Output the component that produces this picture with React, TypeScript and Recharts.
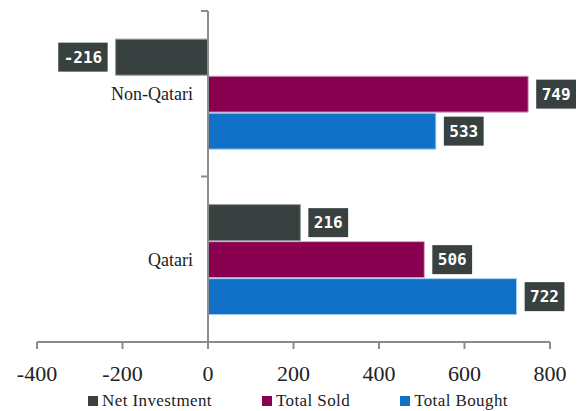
import React from 'react';
import {
  BarChart,
  Bar,
  XAxis,
  YAxis,
  ReferenceLine,
  LabelList,
  Legend,
} from 'recharts';

const categories = ['Non-Qatari', 'Qatari'];
const netInvestment = [-216, 216];
const totalSold = [749, 506];
const totalBought = [533, 722];
const xTicks = [-400, -200, 0, 200, 400, 600, 800];

const data = categories.map((name, i) => ({
  name,
  net: netInvestment[i],
  sold: totalSold[i],
  bought: totalBought[i],
}));

const series = [
  { key: 'net', label: 'Net Investment', fill: '#394140', stroke: '#8e9594' },
  { key: 'sold', label: 'Total Sold', fill: '#8a0050', stroke: '#dba3c6' },
  { key: 'bought', label: 'Total Bought', fill: '#1170c8', stroke: '#a9d0f1' },
];

const serif = '"Liberation Serif", "DejaVu Serif", serif';
const mono = '"DejaVu Sans Mono", monospace';
const axisGray = '#8c8c8c';

const BoxLabel = (props: any) => {
  const { x, y, width, height, value } = props;
  const left = Math.min(x, x + width);
  const right = Math.max(x, x + width);
  const text = String(value);
  const w = text.length * 9.6 + 11;
  const h = 29;
  const bx = value < 0 ? left - 8 - w : right + 8;
  const cy = y + height / 2;
  return (
    <g>
      <rect x={bx} y={cy - h / 2} width={w} height={h} fill="#394140" />
      <text
        x={bx + w / 2}
        y={cy}
        dy="0.36em"
        textAnchor="middle"
        fill="#ffffff"
        fontFamily={mono}
        fontWeight="bold"
        fontSize={16}
      >
        {text}
      </text>
    </g>
  );
};

// category names + boundary ticks drawn along the zero line
const CategoryAxis = (props: any) => {
  const vb = props.viewBox || {};
  const x0 = vb.x;
  const top = vb.y;
  const h = vb.height;
  const n = categories.length;
  return (
    <g>
      {categories.map((c, i) => (
        <text
          key={c}
          x={x0 - 15}
          y={top + (h * (i + 0.5)) / n}
          dy="0.35em"
          textAnchor="end"
          fill="#222"
          fontFamily={serif}
          fontSize={18}
        >
          {c}
        </text>
      ))}
      {Array.from({ length: n + 1 }).map((_, i) => (
        <line
          key={i}
          x1={x0 - 7}
          x2={x0}
          y1={top + (h * i) / n}
          y2={top + (h * i) / n}
          stroke={axisGray}
          strokeWidth={2}
        />
      ))}
    </g>
  );
};

const LegendContent = () => (
  <div
    style={{
      display: 'flex',
      justifyContent: 'center',
      alignItems: 'center',
      height: 21,
      paddingLeft: 9,
      fontFamily: serif,
      fontSize: 17,
      letterSpacing: 0.4,
      color: '#222',
    }}
  >
    {series.map((s, i) => (
      <div
        key={s.key}
        style={{ display: 'flex', alignItems: 'center', marginRight: i < series.length - 1 ? 50 : 0 }}
      >
        <span style={{ width: 10, height: 10, background: s.fill, marginRight: 4, display: 'inline-block' }} />
        <span>{s.label}</span>
      </div>
    ))}
  </div>
);

export default function App() {
  return (
    <BarChart
      width={588}
      height={411}
      data={data}
      layout="vertical"
      margin={{ top: 11, right: 38, left: 37, bottom: 0 }}
      barCategoryGap="17%"
      barGap={1}
      style={{ marginLeft: -8, marginTop: -8 }}
    >
      <XAxis
        type="number"
        domain={[-400, 800]}
        ticks={xTicks}
        interval={0}
        height={48}
        axisLine={{ stroke: axisGray, strokeWidth: 2 }}
        tickLine={{ stroke: axisGray, strokeWidth: 2 }}
        tickSize={7}
        tickMargin={16}
        tick={{ fill: '#222', fontFamily: serif, fontSize: 22 }}
      />
      <YAxis type="category" dataKey="name" hide />
      {series.map((s) => (
        <Bar
          key={s.key}
          dataKey={s.key}
          name={s.label}
          fill={s.fill}
          stroke={s.stroke}
          strokeWidth={1}
          isAnimationActive={false}
        >
          <LabelList dataKey={s.key} content={<BoxLabel />} />
        </Bar>
      ))}
      <ReferenceLine x={0} stroke={axisGray} strokeWidth={2} label={<CategoryAxis />} />
      <Legend verticalAlign="bottom" content={<LegendContent />} />
    </BarChart>
  );
}
